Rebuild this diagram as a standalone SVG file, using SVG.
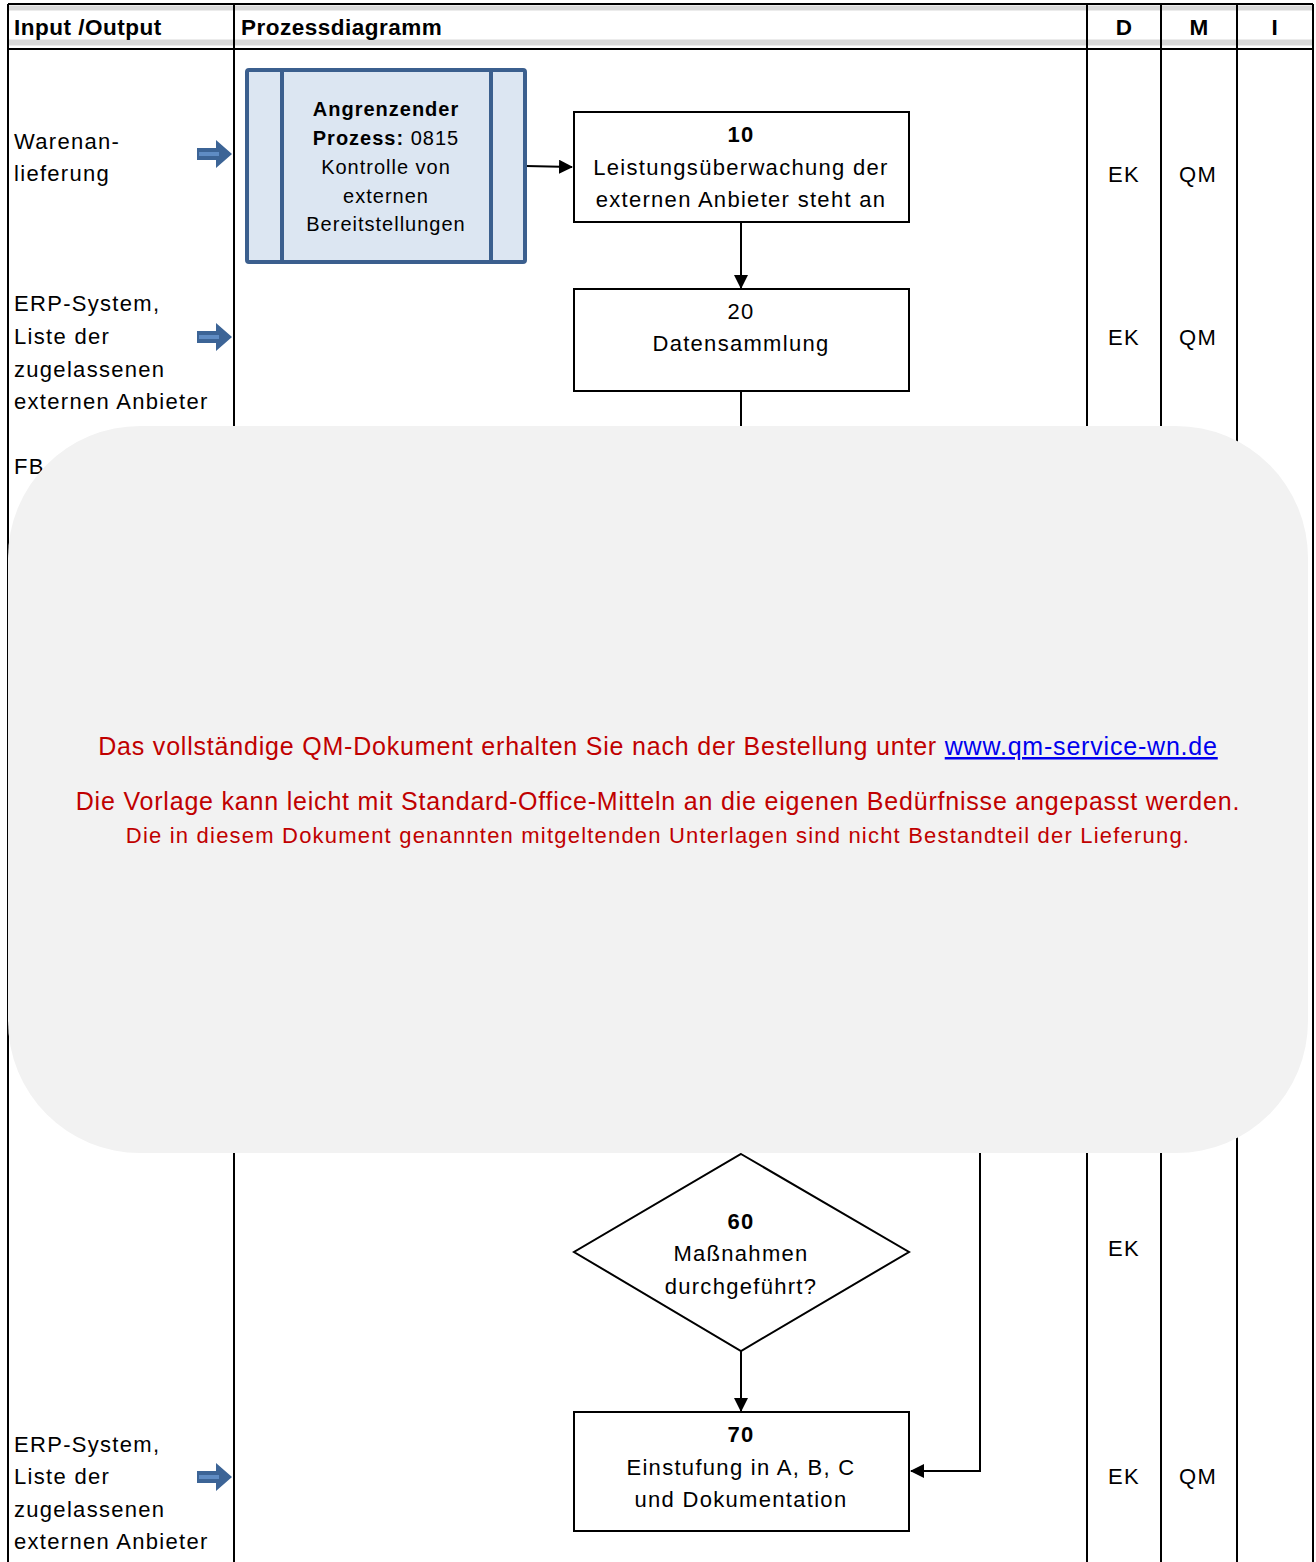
<svg xmlns="http://www.w3.org/2000/svg" width="1316" height="1562" viewBox="0 0 1316 1562">
<style>
.t{font-family:"Liberation Sans",Arial,sans-serif;font-size:22px;fill:#000;letter-spacing:1.3px}
.c{text-anchor:middle}
.b{font-weight:bold}
.h{font-family:"Liberation Sans",Arial,sans-serif;font-size:22.5px;font-weight:bold;fill:#000;letter-spacing:0.5px}
.grid{stroke:#000;stroke-width:2;fill:none}
.box{fill:#fff;stroke:#000;stroke-width:2}
.con{stroke:#000;stroke-width:2;fill:none}
.red{font-family:"Liberation Sans",Arial,sans-serif;fill:#c00000;text-anchor:middle}
.p{font-size:20px;letter-spacing:1px}
</style>
<defs>
<marker id="ah" markerWidth="14" markerHeight="14" refX="13" refY="7" orient="auto" markerUnits="userSpaceOnUse">
<path d="M0,0 L14,7 L0,14 Z" fill="#000"/>
</marker>
<g id="barrow">
<path d="M0,-6 L19,-6 L19,-14 L35,0 L19,14 L19,6 L0,6 Z" fill="#3c6496"/>
<path d="M2,-2 L22,-2 L22,2 L2,2 Z" fill="#5f8cc4"/>
</g>
</defs>
<rect width="1316" height="1562" fill="#fff"/>
<g id="table">
<rect x="8" y="5.5" width="1305" height="5" fill="#d9d9d9"/>
<rect x="8" y="39.5" width="1305" height="6" fill="#d9d9d9"/>
<line class="grid" x1="8" y1="4" x2="1313" y2="4"/>
<line class="grid" x1="8" y1="49" x2="1313" y2="49" stroke-width="2.5"/>
<line class="grid" x1="8" y1="4" x2="8" y2="1562"/>
<line class="grid" x1="234" y1="4" x2="234" y2="1562"/>
<line class="grid" x1="1087" y1="4" x2="1087" y2="1562"/>
<line class="grid" x1="1161" y1="4" x2="1161" y2="1562"/>
<line class="grid" x1="1237" y1="4" x2="1237" y2="1562"/>
<line class="grid" x1="1313" y1="4" x2="1313" y2="1562"/>
<text class="h" x="14" y="35">Input /Output</text>
<text class="h" x="241" y="35">Prozessdiagramm</text>
<text class="h c" x="1124" y="35">D</text>
<text class="h c" x="1199" y="35">M</text>
<text class="h c" x="1275" y="35">I</text>
</g>
<g id="io">
<text class="t" x="14" y="149">Warenan-</text>
<text class="t" x="14" y="181">lieferung</text>
<use href="#barrow" x="197" y="154"/>
<text class="t" x="14" y="311">ERP-System,</text>
<text class="t" x="14" y="344">Liste der</text>
<text class="t" x="14" y="377">zugelassenen</text>
<text class="t" x="14" y="409">externen Anbieter</text>
<use href="#barrow" x="197" y="337"/>
<text class="t" x="14" y="474">FB</text>
<text class="t" x="14" y="1452">ERP-System,</text>
<text class="t" x="14" y="1484">Liste der</text>
<text class="t" x="14" y="1517">zugelassenen</text>
<text class="t" x="14" y="1549">externen Anbieter</text>
<use href="#barrow" x="197" y="1477"/>
</g>
<g id="roles">
<text class="t c" x="1124" y="182">EK</text>
<text class="t c" x="1198" y="182">QM</text>
<text class="t c" x="1124" y="345">EK</text>
<text class="t c" x="1198" y="345">QM</text>
<text class="t c" x="1124" y="1256">EK</text>
<text class="t c" x="1124" y="1484">EK</text>
<text class="t c" x="1198" y="1484">QM</text>
</g>
<g id="connectors">
<line class="con" x1="526" y1="166" x2="572" y2="167" marker-end="url(#ah)"/>
<line class="con" x1="741" y1="222" x2="741" y2="288" marker-end="url(#ah)"/>
<line class="con" x1="741" y1="391" x2="741" y2="440"/>
<line class="con" x1="741" y1="1351" x2="741" y2="1411" marker-end="url(#ah)"/>
<polyline class="con" points="980,1140 980,1471 911,1471" marker-end="url(#ah)"/>
</g>
<g id="p0815">
<rect x="247" y="70" width="278" height="192" rx="2" fill="#dce6f2" stroke="#3b5f8e" stroke-width="4"/>
<line x1="282" y1="70" x2="282" y2="262" stroke="#3b5f8e" stroke-width="4"/>
<line x1="491" y1="70" x2="491" y2="262" stroke="#3b5f8e" stroke-width="4"/>
<text class="t c b p" x="386" y="116">Angrenzender</text>
<text class="t c p" x="386" y="145"><tspan class="b">Prozess:</tspan> 0815</text>
<text class="t c p" x="386" y="174">Kontrolle von</text>
<text class="t c p" x="386" y="203">externen</text>
<text class="t c p" x="386" y="231">Bereitstellungen</text>
</g>
<g id="n10">
<rect class="box" x="574" y="112" width="335" height="110"/>
<text class="t c b" x="741" y="142">10</text>
<text class="t c" x="741" y="175">Leistungsüberwachung der</text>
<text class="t c" x="741" y="207">externen Anbieter steht an</text>
</g>
<g id="n20">
<rect class="box" x="574" y="289" width="335" height="102"/>
<text class="t c" x="741" y="319">20</text>
<text class="t c" x="741" y="351">Datensammlung</text>
</g>
<g id="n60">
<polygon class="box" points="741,1154 909,1252 741,1351 574,1252"/>
<text class="t c b" x="741" y="1229">60</text>
<text class="t c" x="741" y="1261">Maßnahmen</text>
<text class="t c" x="741" y="1294">durchgeführt?</text>
</g>
<g id="n70">
<rect class="box" x="574" y="1412" width="335" height="119"/>
<text class="t c b" x="741" y="1442">70</text>
<text class="t c" x="741" y="1475">Einstufung in A, B, C</text>
<text class="t c" x="741" y="1507">und Dokumentation</text>
</g>
<g id="overlay">
<rect x="8" y="426" width="1300" height="727" rx="132" ry="132" fill="#f2f2f2"/>
<text class="red" x="658" y="755" font-size="25" letter-spacing="0.8">Das vollständige QM-Dokument erhalten Sie nach der Bestellung unter <tspan fill="#0000ee" text-decoration="underline">www.qm-service-wn.de</tspan></text>
<text class="red" x="658" y="810" font-size="25" letter-spacing="0.8">Die Vorlage kann leicht mit Standard-Office-Mitteln an die eigenen Bedürfnisse angepasst werden.</text>
<text class="red" x="658" y="843" font-size="22" letter-spacing="1.2">Die in diesem Dokument genannten mitgeltenden Unterlagen sind nicht Bestandteil der Lieferung.</text>
</g>
</svg>
